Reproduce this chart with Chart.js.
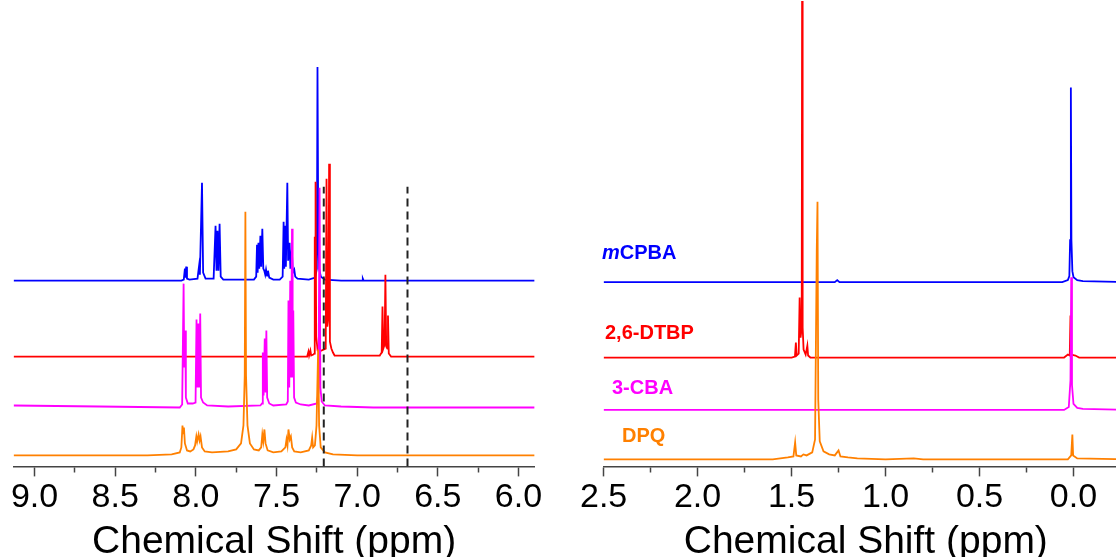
<!DOCTYPE html>
<html>
<head>
<meta charset="utf-8">
<script src="https://cdn.jsdelivr.net/npm/chart.js@4.4.1/dist/chart.umd.min.js"></script>
<style>
  html, body { margin: 0; padding: 0; background: #fff; }
  body { width: 1116px; height: 557px; overflow: hidden; position: relative; }
  .panel { position: absolute; top: 0; height: 566px; }
  #aroBox { left: 0; width: 560px; }
  #aliBox { left: 560px; width: 580px; }
  .tag { position: absolute; font: bold 20px "Liberation Sans", Arial, sans-serif; line-height: 20px; white-space: nowrap; }
</style>
</head>
<body>
<div class="panel" id="aroBox"><canvas id="aroChart"></canvas></div>
<div class="panel" id="aliBox"><canvas id="aliChart"></canvas></div>
<div class="tag" style="left:602px; top:242px; color:#0000ff;"><i>m</i>CPBA</div>
<div class="tag" style="left:605px; top:322px; color:#ff0000;">2,6-DTBP</div>
<div class="tag" style="left:612px; top:377px; color:#ff00ff;">3-CBA</div>
<div class="tag" style="left:622px; top:425px; color:#ff8000;">DPQ</div>
<script>
//sample names and line colours (top trace first)
var samples = ['mCPBA', '2,6-DTBP', '3-CBA', 'DPQ'];
var colors = ['#0000ff', '#ff0000', '#ff00ff', '#ff8000'];

//stacking offset of each trace above the axis
var aroOffsets = [186, 110, 59, 11];
var aliOffsets = [184.5, 109, 56.5, 7];

//aromatic region, [ppm, intensity]
var mcpbaAro = [[9.13,0],[8.09,0],[8.075,1],[8.068,12],[8.064,3],[8.060,14],[8.055,2],[8.04,1],[7.99,2],[7.980,15],[7.975,6],[7.962,98],[7.955,8],[7.94,2],[7.89,2],[7.878,55],[7.872,10],[7.866,50],[7.860,10],[7.853,57],[7.846,4],[7.83,1],
  [7.64,1],[7.626,4],[7.621,36],[7.617,8],[7.612,38],[7.607,12],[7.600,45],[7.595,14],[7.588,52],[7.582,12],[7.576,10],[7.570,6],[7.565,11],[7.559,5],[7.553,10],[7.545,3],[7.52,1],
  [7.48,1],[7.462,4],[7.456,59],[7.452,12],[7.447,55],[7.442,14],[7.433,98],[7.428,20],[7.419,38],[7.414,12],[7.405,31],[7.399,8],[7.390,11],[7.384,4],[7.37,2],[7.30,1],
  [7.26,3],[7.250,12],[7.246,214],[7.241,40],[7.236,12],[7.225,4],[7.20,1],[7.10,0],[6.97,0],[6.965,2],[6.96,0],[5.90,0]];
var dtbpAro = [[9.13,0],[7.31,0],[7.302,5],[7.298,1],[7.290,6],[7.285,1],[7.272,2],[7.266,3],[7.263,120],[7.261,40],[7.258,175],[7.254,20],[7.245,6],[7.235,5],
  [7.195,8],[7.190,178],[7.185,30],[7.178,40],[7.174,193],[7.169,15],[7.160,8],[7.150,4],[7.14,1],
  [6.86,1],[6.848,4],[6.843,50],[6.838,8],[6.830,12],[6.825,82],[6.820,10],[6.813,8],[6.809,41],[6.804,3],[6.79,0],[5.90,0]];
var cbaAro = [[9.13,2],[8.6,1],[8.10,0],[8.085,3],[8.076,124],[8.072,40],[8.066,77],[8.062,10],[8.05,4],[8.02,4],
  [8.002,5],[7.996,88],[7.991,20],[7.985,84],[7.980,20],[7.973,94],[7.968,10],[7.955,5],[7.93,2],[7.80,1],
  [7.60,2],[7.590,4],[7.585,55],[7.580,12],[7.573,69],[7.568,15],[7.563,77],[7.558,10],[7.545,4],[7.52,2],
  [7.44,3],[7.430,6],[7.426,107],[7.421,20],[7.415,127],[7.410,30],[7.404,179],[7.400,30],[7.396,97],[7.391,10],[7.38,5],[7.35,3],[7.30,2],
  [7.25,4],[7.240,15],[7.233,220],[7.228,20],[7.22,6],[7.20,2],[7.10,1],[6.90,0],[5.90,0]];
var dpqAro = [[9.13,0],[8.30,0],[8.15,1],[8.10,3],[8.090,8],[8.083,30],[8.079,22],[8.074,28],[8.068,12],[8.055,5],[8.035,4],[8.015,6],
  [8.005,10],[7.997,19],[7.992,14],[7.983,21],[7.977,15],[7.971,19],[7.962,8],[7.945,4],[7.90,3],[7.80,4],[7.75,6],[7.72,12],[7.705,30],[7.697,80],[7.693,244],[7.689,80],[7.68,30],[7.665,12],[7.64,6],[7.61,5],
  [7.595,8],[7.588,21],[7.582,14],[7.575,26],[7.568,12],[7.555,5],[7.52,3],[7.47,4],
  [7.445,8],[7.438,16],[7.432,10],[7.426,26],[7.418,16],[7.411,19],[7.403,8],[7.39,4],[7.35,3],[7.30,5],[7.285,10],[7.279,18],[7.273,8],[7.262,10],[7.252,30],[7.242,106],[7.236,30],[7.226,8],[7.20,3],[7.15,1],[7.00,0],[5.90,0]];

//aliphatic region, [ppm, intensity]
var mcpbaAli = [[2.5,0],[1.27,0],[1.257,2],[1.245,0],[0.06,0],[0.03,2],[0.022,6],[0.018,42],[0.014,195],[0.011,42],[0.006,11],[0.0,5],[-0.02,2],[-0.05,1],[-0.29,0]];
var dtbpAli = [[2.5,0],[1.50,0],[1.482,1],[1.477,15],[1.473,2],[1.462,4],[1.457,60],[1.452,20],[1.446,30],[1.444,357],[1.441,30],[1.436,8],[1.425,3],[1.416,12],[1.412,2],[1.40,0],[0.05,0],[0.03,3],[0.02,2],[0.016,42],[0.012,3],[-0.01,2],[-0.03,0],[-0.29,0]];
var cbaAli = [[2.5,0],[0.05,0],[0.025,3],[0.016,30],[0.012,133],[0.008,25],[0.0,6],[-0.02,2],[-0.05,1],[-0.29,0]];
var dpqAli = [[2.5,0],[1.60,0],[1.52,2],[1.49,3],[1.481,17],[1.475,4],[1.45,3],[1.437,5],[1.42,4],[1.39,7],[1.375,20],[1.366,208],[1.362,258],[1.358,60],[1.35,18],[1.33,8],[1.30,5],[1.27,4],[1.25,9],[1.24,3],[1.20,2],[1.15,1],[1.00,0],[0.85,1],[0.80,0],[0.03,0],[0.012,4],[0.006,25],[0.002,4],[-0.02,1],[-0.29,0]];

//dashed reference lines in the aromatic panel (ppm)
var markerShifts = [7.207, 6.688];

//tick values
var aroMajor = [9.0, 8.5, 8.0, 7.5, 7.0, 6.5, 6.0];
var aroMinor = [8.75, 8.25, 7.75, 7.25, 6.75, 6.25];
var aliMajor = [2.5, 2.0, 1.5, 1.0, 0.5, 0.0];
var aliMinor = [2.25, 1.75, 1.25, 0.75, 0.25, -0.25];

Chart.defaults.font.family = '"Liberation Sans", Arial, sans-serif';
Chart.defaults.color = '#000';

//turn [ppm, intensity] lists into stacked line datasets
function buildDatasets(traces, offsets) {
  var sets = traces.map(function (pts, i) {
    return {
      label: samples[i],
      data: pts.map(function (p) { return { x: p[0], y: offsets[i] + p[1] }; }),
      borderColor: colors[i],
      borderWidth: 1.8,
      pointRadius: 0,
      tension: 0,
      fill: false
    };
  });
  //first dataset is drawn on top, so reverse (orange on top)
  return sets.reverse();
}

function makePanel(id, datasets, xMin, xMax, major, minor, padL, padR) {
  var allTicks = major.concat(minor).sort(function (a, b) { return a - b; });
  return new Chart(document.getElementById(id).getContext('2d'), {
    type: 'line',
    data: { datasets: datasets },
    options: {
      responsive: true,
      maintainAspectRatio: false,
      animation: false,
      events: [],
      layout: { padding: { left: padL, right: padR, top: 0, bottom: 0 } },
      plugins: { legend: { display: false }, tooltip: { enabled: false } },
      scales: {
        x: {
          type: 'linear',
          reverse: true,
          min: xMin,
          max: xMax,
          afterBuildTicks: function (scale) {
            scale.ticks = allTicks.filter(function (v) { return v >= xMin && v <= xMax; })
              .map(function (v) { return { value: v }; });
          },
          border: { display: true, color: '#444', width: 1.5 },
          grid: {
            drawOnChartArea: false,
            drawTicks: true,
            tickLength: 10,
            tickWidth: 1.5,
            tickColor: '#444',
            //minor ticks are half length
            tickBorderDash: function (ctx) {
              return (ctx.tick && major.indexOf(ctx.tick.value) < 0) ? [5, 40] : [];
            }
          },
          ticks: {
            autoSkip: false,
            maxRotation: 0,
            padding: 1,
            font: { size: 34 },
            callback: function (v) { return major.indexOf(v) >= 0 ? v.toFixed(1) : ''; }
          },
          title: {
            display: true,
            text: 'Chemical Shift (ppm)',
            font: { size: 39 },
            padding: { top: 0, bottom: 0 }
          }
        },
        y: { display: false, min: 0, max: 467 }
      }
    }
  });
}

//dashed guide lines
var aroSets = markerShifts.map(function (s) {
  return {
    data: [{ x: s, y: 0 }, { x: s, y: 280 }],
    borderColor: '#222',
    borderWidth: 2,
    borderDash: [8, 5],
    pointRadius: 0
  };
}).concat(buildDatasets([mcpbaAro, dtbpAro, cbaAro, dpqAro], aroOffsets));

var aliSets = buildDatasets([mcpbaAli, dtbpAli, cbaAli, dpqAli], aliOffsets);

var aroChart = makePanel('aroChart', aroSets, 5.90, 9.13, aroMajor, aroMinor, 13.6, 25.4);
var aliChart = makePanel('aliChart', aliSets, -0.29, 2.5, aliMajor, aliMinor, 43.6, 12);
</script>
</body>
</html>
